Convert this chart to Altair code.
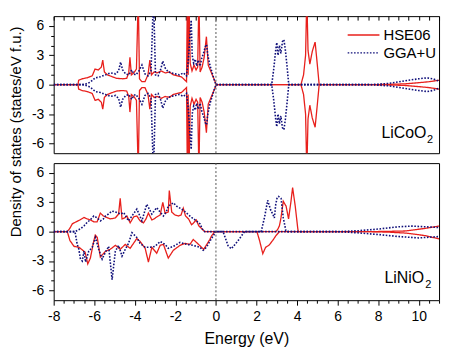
import altair as alt
import pandas as pd

# ---------------- data ----------------
# LiCoO2 (non-magnetic: spin-down is the mirror of spin-up)
co_hse_E = [-8.0, -6.80, -6.77, -6.6, -6.35, -6.1, -5.96, -5.8, -5.65, -5.58, -5.5, -5.35, -5.1, -4.9,
            -4.6, -4.4, -4.3, -4.24, -4.17, -4.05, -3.92, -3.83, -3.77, -3.65, -3.5, -3.35, -3.26, -3.18,
            -3.05, -2.9, -2.7, -2.5, -2.3, -2.1, -1.9, -1.7, -1.55, -1.45, -1.41, -1.37, -1.33, -1.27,
            -1.18, -1.08, -0.98, -0.9, -0.84, -0.78, -0.68, -0.58, -0.47, -0.38, -0.3, -0.2, -0.1, 0.02,
            4.19, 4.32, 4.42, 4.48, 4.54, 4.63, 4.75, 4.89, 5.0, 5.09,
            7.7, 8.5, 9.3, 10.0, 10.5, 11.0]
co_hse = [0, 0, 0.45, 0.6, 0.7, 0.9, 1.6, 1.5, 1.8, 2.5, 1.3, 1.0, 0.8, 0.65,
          0.6, 0.65, 1.2, 2.8, 1.0, 1.2, 1.6, 9.0, 0.6, 0.3, 0.3, 1.0, 2.5, 1.0,
          1.3, 1.2, 1.4, 1.2, 1.3, 1.0, 0.9, 0.8, 0.5, 0.3, 9.0, 1.0, 9.0, 2.2,
          1.4, 2.0, 1.5, 1.8, 9.0, 1.3, 1.8, 2.8, 4.9, 2.0, 1.6, 1.1, 0.6, 0,
          0, 1.0, 3.0, 9.0, 3.5, 2.1, 3.4, 4.35, 2.0, 0,
          0, 0.03, 0.08, 0.2, 0.3, 0.45]

co_gga_E = [-8.0, -6.5, -6.2, -5.95, -5.7, -5.45, -5.2, -4.95, -4.8, -4.7, -4.6, -4.45, -4.3, -4.15,
            -4.05, -3.95, -3.8, -3.65, -3.5, -3.35, -3.2, -3.08, -2.98, -2.85, -2.72, -2.62, -2.5,
            -2.35, -2.2, -2.0, -1.8, -1.6, -1.45, -1.36, -1.28, -1.22, -1.17, -1.1, -1.02, -0.95,
            -0.87, -0.78, -0.7, -0.6, -0.52, -0.46, -0.4, -0.3, -0.2, -0.1, 0.0,
            2.75, 2.85, 2.95, 3.0, 3.06, 3.13, 3.2, 3.28, 3.35, 3.42, 3.5, 3.59,
            7.6, 8.5, 9.0, 9.5, 10.0, 10.4, 10.7, 11.0]
co_gga = [0, 0, 0.25, 0.7, 0.8, 1.0, 1.2, 1.1, 1.4, 2.3, 1.5, 1.1, 1.0, 1.5,
          1.1, 1.0, 1.4, 2.0, 1.1, 0.9, 1.4, 9.0, 1.0, 0.9, 1.6, 2.4, 1.7,
          1.3, 1.2, 1.1, 1.0, 1.2, 0.9, 2.5, 5.0, 6.6, 3.0, 2.2, 2.6, 1.9,
          2.5, 1.9, 2.7, 3.3, 3.9, 4.1, 3.0, 2.0, 1.3, 0.6, 0,
          0, 1.6, 3.6, 4.3, 3.0, 4.0, 3.2, 4.4, 4.6, 3.6, 2.0, 0,
          0, 0.12, 0.28, 0.45, 0.6, 0.7, 0.6, 0.35]

# LiNiO2 (spin-polarised)
ni_hse_up_E = [-8.0, -7.33, -7.2, -7.08, -6.9, -6.7, -6.51, -6.35, -6.19, -6.02, -5.86, -5.7, -5.55,
               -5.45, -5.21, -4.96, -4.8, -4.72, -4.63, -4.5, -4.39, -4.23, -4.06, -3.9, -3.74, -3.57,
               -3.45, -3.33, -3.16, -3.05, -2.92, -2.75, -2.62, -2.51, -2.35, -2.30, -2.18, -2.02,
               -1.85, -1.72, -1.61, -1.5, -1.35, -1.2, -1.1, -0.97, -0.85, -0.7, -0.55,
               2.96, 3.05, 3.13, 3.21, 3.32, 3.46, 3.58, 3.70, 3.78, 3.91, 4.03, 4.06,
               7.6, 8.5, 9.34, 10.3, 11.0]
ni_hse_up = [0, 0, 0.35, 0.8, 1.0, 1.2, 1.45, 1.3, 1.2, 1.0, 1.0, 1.9, 1.6,
             1.5, 1.3, 1.4, 1.8, 3.4, 1.3, 1.4, 1.6, 0.9, 1.5, 1.6, 1.1, 0.9,
             1.3, 1.9, 1.2, 1.3, 1.5, 1.7, 3.0, 1.9, 2.0, 4.2, 2.0, 1.7,
             1.6, 1.7, 2.4, 1.6, 1.3, 0.7, 0.9, 1.2, 0.6, 0.3, 0,
             0, 0.25, 0.6, 1.45, 3.1, 2.6, 1.3, 3.1, 4.5, 2.6, 0.4, 0,
             0, 0.03, 0.07, 0.33, 0.57]

ni_hse_dn_E = [-8.0, -7.33, -7.2, -7.0, -6.75, -6.45, -6.32, -6.19, -6.05, -5.95, -5.85, -5.70, -5.45,
               -5.21, -4.96, -4.72, -4.47, -4.23, -3.90, -3.74, -3.49, -3.33, -3.16, -2.92, -2.75,
               -2.59, -2.35, -2.10, -1.77, -1.53, -1.28, -1.12, -0.96, -0.71, -0.6, -0.45, -0.3,
               -0.22, -0.06,
               2.02, 2.15, 2.31, 2.45, 2.61, 2.8, 2.96, 3.13,
               7.6, 8.5, 9.4, 10.3, 11.0]
ni_hse_dn = [0, 0, -0.9, -1.5, -1.6, -2.1, -3.3, -2.7, -1.2, -0.35, -0.6, -2.6, -2.0,
             -1.8, -1.4, -1.8, -1.3, -1.7, -0.7, -1.0, -1.7, -3.1, -1.6, -2.2, -1.4,
             -1.3, -2.7, -1.9, -1.4, -1.2, -1.3, -0.8, -1.1, -1.6, -1.8, -1.3, -0.8,
             -0.45, 0,
             0, -0.9, -2.25, -1.6, -1.4, -0.9, -0.4, 0,
             0, -0.05, -0.15, -0.4, -0.74]

ni_gga_up_E = [-8.0, -6.95, -6.68, -6.5, -6.35, -6.2, -6.02, -5.85, -5.7, -5.55, -5.45, -5.3, -5.12,
               -4.88, -4.7, -4.55, -4.31, -4.14, -3.9, -3.75, -3.65, -3.41, -3.16, -2.92, -2.75,
               -2.59, -2.45, -2.35, -2.2, -2.10, -1.94, -1.69, -1.45, -1.2, -0.96, -0.79, -0.63, -0.55,
               2.23, 2.4, 2.55, 2.7, 2.8, 2.88, 2.95, 3.02, 3.09, 3.21, 3.32, 3.45, 3.53,
               6.0, 7.05, 8.03, 9.0, 9.67, 10.3, 11.0]
ni_gga_up = [0, 0, 0.3, 0.6, 0.95, 1.2, 1.6, 1.4, 1.1, 1.3, 1.6, 1.8, 2.1,
             1.95, 1.8, 1.95, 1.1, 1.6, 2.3, 1.6, 1.1, 2.8, 1.8, 2.45, 2.0,
             1.6, 2.0, 2.6, 2.8, 2.95, 2.6, 2.3, 1.9, 1.45, 1.1, 0.8, 0.1, 0,
             0, 1.5, 3.2, 2.2, 1.8, 1.4, 2.8, 3.5, 3.6, 3.4, 1.4, 0.1, 0,
             0, 0.1, 0.27, 0.5, 0.57, 0.5, 0.42]

ni_gga_dn_E = [-8.0, -6.95, -6.84, -6.76, -6.68, -6.59, -6.51, -6.43, -6.27, -6.10, -5.94, -5.78,
               -5.61, -5.45, -5.29, -5.12, -4.96, -4.80, -4.63, -4.47, -4.31, -4.14, -3.90, -3.74,
               -3.49, -3.25, -3.0, -2.75, -2.51, -2.35, -2.10, -1.77, -1.45, -1.12, -0.79, -0.63,
               -0.47, -0.22, 0.0, 0.35, 0.6, 0.76, 1.08, 1.41,
               6.0, 7.0, 8.03, 9.0, 10.0, 11.0]
ni_gga_dn = [0, 0, -1.3, -1.8, -2.8, -3.0, -2.0, -3.1, -2.0, -1.6, -0.6, -1.8,
             -2.8, -2.1, -1.5, -4.9, -2.0, -1.4, -2.5, -1.8, -1.2, -0.1, -0.6, -1.2,
             -1.6, -1.6, -1.5, -1.0, -1.3, -1.7, -1.5, -1.1, -1.3, -1.4, -1.6, -1.9,
             -1.6, -0.7, 0, 0, -1.45, -1.75, -0.95, 0,
             0, -0.12, -0.3, -0.5, -0.64, -0.5]

fermi = [0.0]
methods = ["HSE06", "GGA+U"]
colors = ["#e8201c", "#10107a"]
dashes = [[1, 0], [1.6, 1.6]]
x_ticks = [-8 + 0.5 * i for i in range(39)]
y_ticks = list(range(-6, 7))
compounds = [("LiCoO", "2"), ("LiNiO", "2")]

FONT = "Liberation Sans"


def rows(E, D, method, spin, sign=1.0):
    return [{"E": e, "dos": sign * d, "method": method, "spin": spin} for e, d in zip(E, D)]


co_df = pd.DataFrame(rows(co_hse_E, co_hse, "HSE06", "up") + rows(co_hse_E, co_hse, "HSE06", "dn", -1.0)
                     + rows(co_gga_E, co_gga, "GGA+U", "up") + rows(co_gga_E, co_gga, "GGA+U", "dn", -1.0))
ni_df = pd.DataFrame(rows(ni_hse_up_E, ni_hse_up, "HSE06", "up") + rows(ni_hse_dn_E, ni_hse_dn, "HSE06", "dn")
                     + rows(ni_gga_up_E, ni_gga_up, "GGA+U", "up") + rows(ni_gga_dn_E, ni_gga_dn, "GGA+U", "dn"))

xscale = alt.Scale(domain=[-8, 11], nice=False, zero=False)
yscale = alt.Scale(domain=[-7, 7], nice=False, zero=False)

yaxis_common = dict(values=y_ticks, labelExpr="datum.value % 3 === 0 ? toString(datum.value) : ''",
                    tickSize={"condition": {"test": "datum.value % 3 === 0", "value": 5}, "value": 3},
                    labelFontSize=14, labelPadding=5, labelOverlap=False, domain=False, grid=False,
                    labelFont=FONT, labelColor="black", tickColor="black")


def make_panel(df, top, comp):
    if top:
        xaxis = alt.Axis(orient="top", values=x_ticks, labels=False, domain=False, tickSize=4, offset=-4,
                         grid=False, title=None, tickColor="black")
        yaxis = alt.Axis(title="Density of states (states/eV f.u.)", titleX=-38, titleY=116, titleAngle=270,
                         titleAlign="center", titleBaseline="middle", titleFontSize=15, titleFont=FONT,
                         titleFontWeight="normal", titleColor="black", **yaxis_common)
        # short line symbol drawn as a custom path: 32 px long with a 16 px nominal size
        leg = alt.Legend(orient="none", legendX=303, legendY=10, title=None, symbolType="M-2,0H2",
                         symbolSize=256, symbolStrokeWidth=1.4, labelFontSize=15, labelFont=FONT,
                         labelColor="black", rowPadding=1, labelOffset=11, padding=0,
                         symbolFillColor="transparent")
    else:
        xaxis = alt.Axis(orient="bottom", values=x_ticks,
                         labelExpr="datum.value % 2 === 0 ? toString(datum.value) : ''",
                         tickSize={"condition": {"test": "datum.value % 2 === 0", "value": 5}, "value": 3},
                         labelFontSize=14, labelPadding=4, labelFlush=False, labelOverlap=False,
                         domain=False, grid=False, title="Energy (eV)", titleFontSize=16, titlePadding=8,
                         titleFont=FONT, titleFontWeight="normal", titleColor="black",
                         labelFont=FONT, labelColor="black", tickColor="black")
        yaxis = alt.Axis(title=None, **yaxis_common)
        leg = None

    X = alt.X("E:Q", scale=xscale, axis=xaxis)
    Y = alt.Y("dos:Q", scale=yscale, axis=yaxis)
    col = alt.Color("method:N", scale=alt.Scale(domain=methods, range=colors), legend=leg)
    dash = alt.StrokeDash("method:N", scale=alt.Scale(domain=methods, range=dashes), legend=leg)

    base = alt.Chart(df).encode(x=X, y=Y, color=col, strokeDash=dash, detail="spin:N")
    red = base.transform_filter(alt.datum.method == "HSE06").mark_line(clip=True, strokeWidth=1.3)
    blue = base.transform_filter(alt.datum.method == "GGA+U").mark_line(clip=True, strokeWidth=1.6)
    rule = alt.Chart(pd.DataFrame({"E": fermi})).mark_rule(color="#555555", strokeDash=[2, 2],
                                                             strokeWidth=1).encode(x=X)
    if top:
        lx, ly, sx, sy = 330, 123, 376, 128
    else:
        lx, ly, sx, sy = 333, 121, 374, 126
    t1 = alt.Chart(pd.DataFrame({"t": [comp[0]]})).mark_text(
        align="left", baseline="alphabetic", fontSize=16, font=FONT, color="black").encode(
        x=alt.value(lx), y=alt.value(ly), text="t:N")
    t2 = alt.Chart(pd.DataFrame({"t": [comp[1]]})).mark_text(
        align="left", baseline="alphabetic", fontSize=11, font=FONT, color="black").encode(
        x=alt.value(sx), y=alt.value(sy), text="t:N")
    return alt.layer(red, blue, rule, t1, t2).properties(width=388, height=138)


top = make_panel(co_df, True, compounds[0])
bottom = make_panel(ni_df, False, compounds[1])

chart = alt.vconcat(top, bottom, spacing=10).resolve_scale(
    color="independent", strokeDash="independent"
).properties(
    bounds="flush",
    padding={"left": 0, "top": 6, "right": 5, "bottom": 5},
    background="white",
).configure_view(stroke="black", strokeWidth=1)

chart.save("out.html", embed_options={"renderer": "svg", "actions": False})
